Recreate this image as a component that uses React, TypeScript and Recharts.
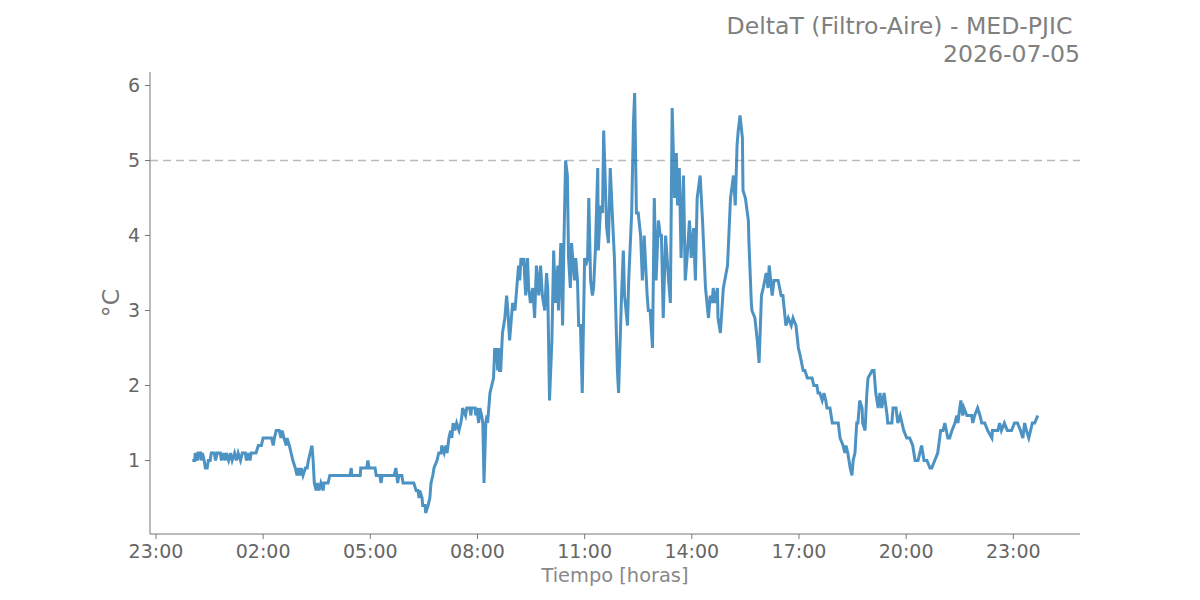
import { LineChart, Line, XAxis, YAxis, ReferenceLine } from "recharts";

// minutes since 00:00 of the day
const TIMES = [
  1, 5, 6, 10, 11, 15, 16, 18, 21, 23, 26, 28, 31, 33, 38, 40, 43, 48, 50, 53,
  56, 58, 62, 65, 68, 72, 75, 78, 82, 85, 90, 92, 95, 98, 100, 105, 108, 112, 117, 120,
  134, 137, 139, 142, 147, 150, 152, 155, 159, 160, 164, 167, 170, 174, 177, 179, 182, 184, 187, 191,
  194, 196, 199, 202, 204, 206, 209, 211, 214, 217, 221, 222, 229, 232, 266, 268, 269, 283, 284, 294,
  296, 298, 308, 310, 316, 318, 320, 340, 343, 346, 348, 353, 355, 373, 377, 380, 382, 383, 387, 388,
  392, 393, 397, 400, 402, 405, 407, 412, 415, 419, 420, 424, 427, 429, 432, 435, 437, 439, 442, 445,
  449, 452, 454, 455, 460, 462, 467, 469, 470, 476, 477, 479, 482, 484, 487, 489, 491, 494, 496, 497,
  501, 504, 507, 509, 511, 512, 514, 516, 517, 519, 522, 526, 529, 531, 534, 538, 539, 543, 546, 549,
  551, 553, 556, 558, 559, 561, 564, 566, 569, 573, 576, 579, 583, 586, 589, 593, 596, 598, 601, 605,
  608, 611, 615, 616, 620, 623, 625, 628, 631, 633, 636, 638, 640, 643, 645, 648, 650, 653, 656, 660,
  662, 665, 667, 670, 673, 675, 678, 682, 683, 687, 690, 692, 697, 700, 703, 707, 710, 715, 717, 722,
  725, 727, 732, 734, 739, 742, 744, 747, 750, 754, 757, 760, 765, 767, 770, 774, 777, 780, 784, 787,
  789, 792, 796, 801, 804, 807, 811, 814, 816, 819, 822, 826, 829, 832, 836, 839, 843, 846, 849, 854,
  858, 863, 868, 871, 874, 876, 879, 883, 884, 888, 893, 900, 905, 910, 913, 916, 918, 921, 925, 926,
  930, 935, 936, 940, 941, 946, 950, 953, 957, 960, 965, 968, 970, 975, 978, 985, 990, 993, 998, 1002,
  1007, 1010, 1015, 1019, 1022, 1027, 1030, 1034, 1042, 1045, 1050, 1052, 1055, 1059, 1062, 1065, 1067, 1072, 1076, 1081,
  1086, 1089, 1094, 1097, 1099, 1102, 1106, 1109, 1111, 1114, 1117, 1119, 1122, 1126, 1127, 1131, 1134, 1136, 1143, 1146,
  1149, 1153, 1156, 1159, 1163, 1168, 1169, 1176, 1178, 1183, 1186, 1190, 1193, 1196, 1201, 1206, 1211, 1215, 1220, 1223,
  1226, 1230, 1235, 1240, 1243, 1248, 1253, 1258, 1262, 1265, 1270, 1273, 1277, 1282, 1285, 1287, 1290, 1292, 1295, 1297,
  1302, 1310, 1312, 1315, 1320, 1324, 1327, 1332, 1337, 1344, 1345, 1354, 1357, 1360, 1365, 1370, 1377, 1382, 1387, 1392,
  1396, 1399, 1402, 1406, 1409, 1412, 1416, 1421,
];

const DELTA_T = [
  1.0, 1.0, 1.1, 1.0, 1.1, 1.1, 1.0, 1.1, 1.0, 0.9, 0.9, 1.0, 1.0, 1.1, 1.1, 1.0, 1.1, 1.1, 1.0, 1.1,
  1.0, 1.1, 1.0, 1.1, 1.0, 1.1, 1.0, 1.1, 1.0, 1.1, 1.1, 1.0, 1.1, 1.0, 1.1, 1.1, 1.1, 1.2, 1.2, 1.3,
  1.3, 1.2, 1.3, 1.4, 1.4, 1.3, 1.4, 1.3, 1.2, 1.3, 1.2, 1.1, 1.0, 0.9, 0.8, 0.9, 0.8, 0.9, 0.8, 0.9,
  0.9, 1.0, 1.1, 1.2, 1.0, 0.7, 0.6, 0.7, 0.6, 0.7, 0.6, 0.7, 0.7, 0.8, 0.8, 0.9, 0.8, 0.8, 0.9, 0.9,
  1.0, 0.9, 0.9, 0.8, 0.8, 0.7, 0.8, 0.8, 0.9, 0.7, 0.8, 0.8, 0.7, 0.7, 0.6, 0.6, 0.5, 0.6, 0.5, 0.4,
  0.4, 0.3, 0.4, 0.5, 0.7, 0.8, 0.9, 1.0, 1.1, 1.1, 1.2, 1.1, 1.2, 1.1, 1.3, 1.4, 1.3, 1.5, 1.4, 1.5,
  1.4, 1.5, 1.6, 1.7, 1.6, 1.7, 1.7, 1.6, 1.7, 1.7, 1.6, 1.7, 1.5, 1.7, 1.6, 1.5, 0.7, 1.5, 1.6, 1.5,
  1.9, 2.0, 2.1, 2.5, 2.3, 2.5, 2.2, 2.5, 2.2, 2.2, 2.7, 2.9, 3.2, 3.0, 2.6, 3.0, 3.1, 3.0, 3.3, 3.6,
  3.4, 3.7, 3.6, 3.7, 3.5, 3.2, 3.7, 3.3, 3.1, 3.3, 2.9, 3.6, 3.2, 3.6, 3.2, 3.0, 3.5, 3.3, 1.8, 2.6,
  3.8, 3.1, 3.6, 3.0, 3.9, 2.8, 3.8, 5.0, 4.8, 3.7, 3.3, 3.9, 3.7, 3.4, 3.7, 3.4, 2.8, 2.8, 1.9, 3.7,
  3.6, 3.7, 4.5, 3.4, 3.2, 3.3, 3.8, 4.9, 3.8, 4.4, 4.3, 5.4, 4.1, 3.9, 4.9, 4.2, 3.7, 2.2, 1.9, 3.2,
  3.8, 3.2, 2.8, 3.4, 4.3, 5.5, 5.9, 4.3, 4.3, 4.0, 3.4, 4.0, 3.2, 3.0, 3.0, 2.5, 4.5, 3.4, 4.2, 4.0,
  4.0, 2.9, 4.0, 3.4, 3.1, 5.7, 4.5, 5.1, 4.4, 4.9, 3.7, 4.8, 3.4, 3.7, 4.2, 3.7, 4.1, 3.4, 4.5, 4.8,
  4.2, 3.3, 2.9, 3.2, 3.1, 3.3, 3.1, 3.3, 2.9, 2.7, 3.3, 3.6, 4.5, 4.8, 4.4, 5.2, 5.4, 5.6, 5.3, 4.6,
  4.5, 4.2, 3.9, 3.1, 3.0, 2.9, 2.6, 2.3, 3.2, 3.3, 3.5, 3.3, 3.6, 3.2, 3.4, 3.4, 3.2, 3.2, 2.8, 2.9,
  2.8, 2.9, 2.8, 2.5, 2.4, 2.2, 2.2, 2.1, 2.1, 2.0, 2.0, 1.9, 1.9, 1.8, 1.9, 1.8, 1.7, 1.7, 1.5, 1.5,
  1.5, 1.3, 1.2, 1.1, 1.2, 1.1, 0.9, 0.8, 1.0, 1.1, 1.5, 1.5, 1.8, 1.7, 1.5, 1.4, 1.9, 2.1, 2.2, 2.2,
  1.9, 1.7, 1.9, 1.7, 1.9, 1.6, 1.5, 1.5, 1.7, 1.7, 1.5, 1.6, 1.5, 1.4, 1.3, 1.3, 1.2, 1.0, 1.0, 1.1,
  1.2, 1.0, 1.0, 0.9, 0.9, 1.0, 1.1, 1.4, 1.4, 1.5, 1.3, 1.3, 1.4, 1.5, 1.6, 1.5, 1.7, 1.8, 1.6, 1.7,
  1.6, 1.6, 1.5, 1.6, 1.7, 1.6, 1.5, 1.5, 1.4, 1.3, 1.4, 1.4, 1.5, 1.4, 1.5, 1.4, 1.4, 1.5, 1.5, 1.4,
  1.3, 1.5, 1.4, 1.3, 1.4, 1.5, 1.5, 1.6,
];

const X_TICKS = [-60, 120, 300, 480, 660, 840, 1020, 1200, 1380];
const Y_TICKS = [1, 2, 3, 4, 5, 6];
const LIMIT = 5;
const TITLE = "DeltaT (Filtro-Aire) - MED-PJIC ";
const DATE = "2026-07-05";

const data = TIMES.map((t, i) => ({ t, v: DELTA_T[i] }));

const hhmm = (m: number) => {
  const h = (((Math.round(m / 60)) % 24) + 24) % 24;
  return `${String(h).padStart(2, "0")}:00`;
};

const FONT = "'DejaVu Sans', sans-serif";

export default function App() {
  return (
    <div
      style={{
        position: "absolute",
        left: 0,
        top: 0,
        width: 1200,
        height: 600,
        background: "#fff",
        fontFamily: FONT,
      }}
    >
      <LineChart
        width={1200}
        height={600}
        data={data}
        margin={{ top: 72, right: 120, bottom: 0, left: 90 }}
      >
        <XAxis
          dataKey="t"
          type="number"
          domain={[-70, 1492]}
          ticks={X_TICKS}
          tickFormatter={hhmm}
          allowDataOverflow
          height={66}
          stroke="#777"
          tickSize={5}
          tickMargin={6}
          tick={{ fill: "#666", fontSize: 19 }}
        />
        <YAxis
          type="number"
          domain={[0.02, 6.18]}
          ticks={Y_TICKS}
          allowDataOverflow
          width={60}
          stroke="#777"
          tickSize={5}
          tickMargin={5}
          tick={{ fill: "#666", fontSize: 19 }}
        />
        <ReferenceLine
          y={LIMIT}
          stroke="#bbb"
          strokeWidth={1.5}
          strokeDasharray="8 5"
        />
        <Line
          type="linear"
          dataKey="v"
          stroke="#1f77b4"
          strokeOpacity={0.8}
          strokeWidth={3}
          dot={false}
          isAnimationActive={false}
        />
      </LineChart>
      <div
        style={{
          position: "absolute",
          right: 120,
          top: 13,
          textAlign: "right",
          whiteSpace: "pre",
          fontSize: 23.6,
          lineHeight: "27.5px",
          color: "#808080",
        }}
      >
        {TITLE}
        <br />
        {DATE}
      </div>
      <div
        style={{
          position: "absolute",
          left: 150,
          width: 930,
          top: 564,
          textAlign: "center",
          fontSize: 19.4,
          color: "#888",
        }}
      >
        Tiempo [horas]
      </div>
      <div
        style={{
          position: "absolute",
          left: 111,
          top: 303,
          transform: "translate(-50%, -50%) rotate(-90deg)",
          fontSize: 23.6,
          color: "#777",
          whiteSpace: "nowrap",
        }}
      >
        °C
      </div>
    </div>
  );
}
